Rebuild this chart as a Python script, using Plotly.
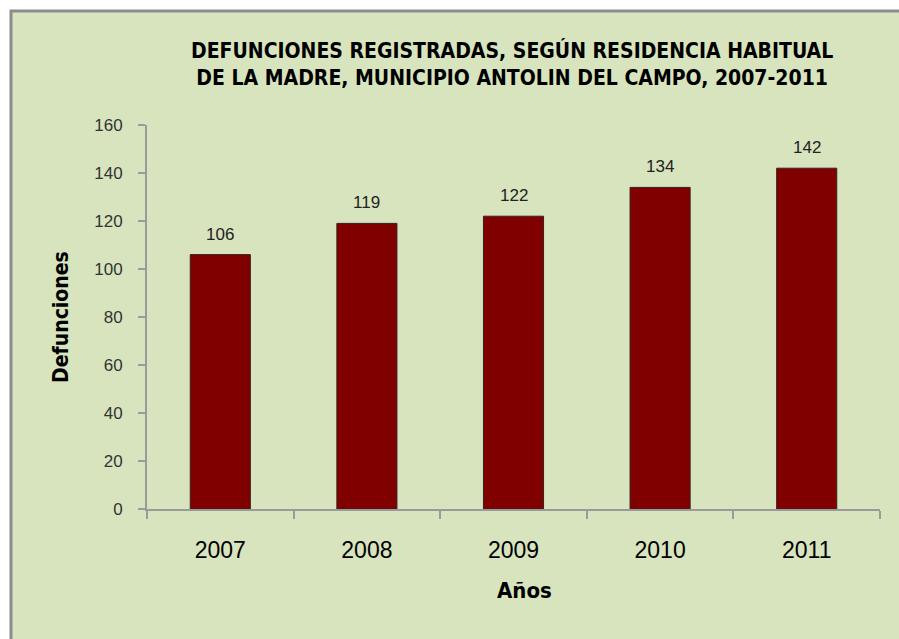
import plotly.graph_objects as go

years = ["2007", "2008", "2009", "2010", "2011"]
defunciones = [106, 119, 122, 134, 142]
y_ticks = [0, 20, 40, 60, 80, 100, 120, 140, 160]

W, H = 899, 639
L, R, T, B = 147, 19, 125, 130
pw, ph = W - L - R, H - T - B

def px_x(px):
    return (px - L) / pw

def px_y(py):
    return (H - B - py) / ph

GREEN = "#d7e4bd"
NARROW = "Liberation Sans Narrow, Arial Narrow, DejaVu Sans Condensed, sans-serif"
REG = "Liberation Sans, Arial, sans-serif"

fig = go.Figure()
fig.add_trace(go.Bar(
    x=years, y=defunciones,
    marker=dict(color="#800000", line=dict(color="#3a2020", width=1)),
    width=0.41,
    hoverinfo="x+y",
))

annotations = []
for i, v in enumerate(defunciones):
    annotations.append(dict(
        x=i, y=v, xref="x", yref="y", text=str(v), showarrow=False,
        yanchor="bottom", yshift=9,
        font=dict(family=REG, size=17, color="#222"),
    ))

annotations.append(dict(
    x=px_x(512), y=px_y(64), xref="paper", yref="paper",
    text="<b>DEFUNCIONES REGISTRADAS, SEGÚN RESIDENCIA HABITUAL<br>DE LA MADRE, MUNICIPIO ANTOLIN DEL CAMPO, 2007-2011</b>",
    showarrow=False, xanchor="center", yanchor="middle",
    font=dict(family=NARROW, size=21, color="#000"),
))
annotations.append(dict(
    x=px_x(524), y=px_y(590), xref="paper", yref="paper",
    text="<b>Años</b>", showarrow=False, xanchor="center", yanchor="middle",
    font=dict(family=NARROW, size=22, color="#000"),
))
annotations.append(dict(
    x=px_x(61), y=px_y(317), xref="paper", yref="paper",
    text="<b>Defunciones</b>", showarrow=False, textangle=-90,
    xanchor="center", yanchor="middle",
    font=dict(family=NARROW, size=21, color="#000"),
))

shapes = [
    dict(type="rect", xref="paper", yref="paper",
         x0=px_x(11), x1=px_x(W + 20), y0=px_y(H + 20), y1=px_y(11),
         fillcolor=GREEN, line=dict(color="#8c8c8c", width=3), layer="below"),
]

fig.update_layout(
    width=W, height=H,
    margin=dict(l=L, r=R, t=T, b=B, autoexpand=False),
    paper_bgcolor="white",
    plot_bgcolor="rgba(0,0,0,0)",
    showlegend=False,
    shapes=shapes,
    annotations=annotations,
)
fig.update_xaxes(
    type="category", tickson="boundaries", range=[-0.5, 4.5],
    showline=True, linecolor="#9a9a9a", linewidth=2,
    ticks="outside", ticklen=8, tickcolor="#9a9a9a", tickwidth=2,
    tickfont=dict(family=REG, size=23, color="#000"),
    tickangle=0, automargin=False,
    ticklabelstandoff=19,
    showgrid=False, zeroline=False,
)
fig.update_yaxes(
    range=[0, 160], tickvals=y_ticks,
    showline=True, linecolor="#9a9a9a", linewidth=2,
    ticks="outside", ticklen=7, tickcolor="#9a9a9a", tickwidth=2,
    tickfont=dict(family=REG, size=17, color="#333"),
    ticklabelstandoff=12, automargin=False,
    showgrid=False, zeroline=False,
)

fig.write_html(
    "out.html",
    config={"displayModeBar": False},
    post_script="document.body.style.margin='0';document.body.style.overflow='hidden';",
)
